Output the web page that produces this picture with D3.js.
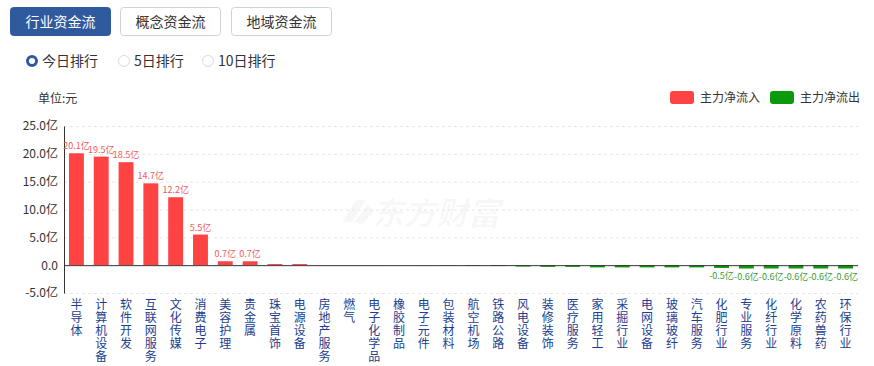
<!DOCTYPE html>
<html>
<head>
<meta charset="utf-8">
<script src="https://cdn.jsdelivr.net/npm/d3@7"></script>
<style>
  body { margin: 0; background: #fff; font-family: "Noto Sans CJK SC", "Noto Sans", sans-serif; }
  #chart { width: 874px; height: 366px; }
</style>
</head>
<body>
<div id="chart"></div>
<script>
// 行业资金流, 今日排行 (单位: 亿元)
var categories = ['半导体', '计算机设备', '软件开发', '互联网服务', '文化传媒', '消费电子', '美容护理', '贵金属',
  '珠宝首饰', '电源设备', '房地产服务', '燃气', '电子化学品', '橡胶制品', '电子元件', '包装材料',
  '航空机场', '铁路公路', '风电设备', '装修装饰', '医疗服务', '家用轻工', '采掘行业', '电网设备',
  '玻璃玻纤', '汽车服务', '化肥行业', '专业服务', '化纤行业', '化学原料', '农药兽药', '环保行业'];
var netFlow = [20.1, 19.5, 18.5, 14.7, 12.2, 5.5, 0.7, 0.7,
  0.2, 0.2, 0.02, 0.01, 0.01, 0.0, -0.02, -0.05,
  -0.1, -0.15, -0.25, -0.3, -0.3, -0.4, -0.4, -0.4,
  -0.4, -0.4, -0.5, -0.6, -0.6, -0.6, -0.6, -0.6];
// only the top and bottom bars carry a value label
var labelled = [0, 1, 2, 3, 4, 5, 6, 7, 26, 27, 28, 29, 30, 31];
var yTicks = [-5, 0, 5, 10, 15, 20, 25];
var tabs = ['行业资金流', '概念资金流', '地域资金流'];
var ranks = ['今日排行', '5日排行', '10日排行'];
var legendItems = [{ name: '主力净流入', color: '#ff4242' }, { name: '主力净流出', color: '#0b9a0b' }];

var RED = '#ff4242', GREEN = '#0b9a0b';

var svg = d3.select('#chart').append('svg')
  .attr('width', 874).attr('height', 366);

// Tabs
var tabX = [10, 120, 231];
var tabG = svg.selectAll('g.tab').data(tabs).enter().append('g')
  .attr('transform', function (d, i) { return 'translate(' + tabX[i] + ',7)'; });
tabG.append('rect')
  .attr('x', 0.5).attr('y', 0.5)
  .attr('width', 100).attr('height', 28).attr('rx', 3)
  .attr('fill', function (d, i) { return i === 0 ? '#2f5a9e' : '#fff'; })
  .attr('stroke', function (d, i) { return i === 0 ? '#2f5a9e' : '#ccd3dc'; });
tabG.append('text')
  .attr('x', 50.5).attr('y', 19.5)
  .attr('text-anchor', 'middle')
  .attr('font-size', 14)
  .attr('fill', function (d, i) { return i === 0 ? '#fff' : '#333'; })
  .text(function (d) { return d; });

// Radio options
var radioX = [32, 124, 208];
var rg = svg.selectAll('g.radio').data(ranks).enter().append('g')
  .attr('transform', function (d, i) { return 'translate(' + radioX[i] + ',61)'; });
rg.append('circle')
  .attr('r', function (d, i) { return i === 0 ? 4.5 : 5.5; })
  .attr('fill', '#fff')
  .attr('stroke', function (d, i) { return i === 0 ? '#2f5a9e' : '#d5dbe3'; })
  .attr('stroke-width', function (d, i) { return i === 0 ? 3 : 1; });
rg.append('text')
  .attr('x', 10).attr('y', 5)
  .attr('font-size', 14).attr('fill', '#333')
  .text(function (d) { return d; });

svg.append('text')
  .attr('x', 38).attr('y', 103)
  .attr('font-size', 12).attr('fill', '#333')
  .text('单位:元');

// Legend
var legX = [670, 770];
var lg = svg.selectAll('g.legend').data(legendItems).enter().append('g')
  .attr('transform', function (d, i) { return 'translate(' + legX[i] + ',91)'; });
lg.append('rect')
  .attr('width', 24).attr('height', 13).attr('rx', 3)
  .attr('fill', function (d) { return d.color; });
lg.append('text')
  .attr('x', 30).attr('y', 11)
  .attr('font-size', 12).attr('fill', '#333')
  .text(function (d) { return d.name; });

// Plot
var plotLeft = 64, plotRight = 858, plotTop = 126, plotBottom = 293;
var x = d3.scaleBand().domain(categories).range([plotLeft, plotRight]).paddingInner(0.4).paddingOuter(0.2);
var y = d3.scaleLinear().domain([-5, 25]).range([plotBottom, plotTop]);

// watermark
svg.append('text')
  .attr('x', 372).attr('y', 225)
  .attr('font-size', 32).attr('font-weight', 'bold')
  .attr('fill', '#000').attr('fill-opacity', 0.035)
  .attr('font-style', 'italic')
  .text('东方财富');
svg.append('path')
  .attr('d', 'M342,222 L356,200 L366,200 L352,222 Z M354,222 L368,204 L374,212 L362,224 Z')
  .attr('fill', '#000').attr('fill-opacity', 0.03);

// grid
svg.append('g').selectAll('line').data(yTicks.filter(function (t) { return t !== 0; })).enter()
  .append('line')
  .attr('x1', plotLeft).attr('x2', plotRight)
  .attr('y1', function (d) { return y(d) + 0.5; }).attr('y2', function (d) { return y(d) + 0.5; })
  .attr('stroke', '#e6e6e6').attr('stroke-dasharray', '3,3');

// y axis
var yAxis = d3.axisLeft(y).tickValues(yTicks).tickSize(0).tickPadding(6)
  .tickFormat(function (d) { return d === 0 ? '0.0' : d.toFixed(1) + '亿'; });
var yg = svg.append('g').attr('transform', 'translate(' + plotLeft + ',0)').call(yAxis);
yg.select('.domain').attr('stroke', '#333');
yg.selectAll('text').attr('font-size', 12).attr('fill', '#333')
  .attr('font-family', '"Noto Sans CJK SC", sans-serif');

// bars
svg.append('g').selectAll('rect').data(netFlow).enter().append('rect')
  .attr('x', function (d, i) { return x(categories[i]); })
  .attr('width', x.bandwidth())
  .attr('y', function (d) { return d >= 0 ? y(d) : y(0); })
  .attr('height', function (d) { return Math.abs(y(d) - y(0)); })
  .attr('fill', function (d) { return d >= 0 ? RED : GREEN; });

// zero line
svg.append('line')
  .attr('x1', plotLeft).attr('x2', plotRight)
  .attr('y1', y(0) + 0.5).attr('y2', y(0) + 0.5)
  .attr('stroke', '#333');

// value labels
svg.append('g').selectAll('text').data(labelled).enter().append('text')
  .attr('x', function (i) { return x(categories[i]) + x.bandwidth() / 2; })
  .attr('y', function (i) { return netFlow[i] >= 0 ? y(netFlow[i]) - 4 : y(netFlow[i]) + 11; })
  .attr('text-anchor', 'middle')
  .attr('font-size', 9)
  .attr('fill', function (i) { return netFlow[i] >= 0 ? '#ee5b5b' : '#3a9a3a'; })
  .text(function (i) { return netFlow[i].toFixed(1) + '亿'; });

// category labels, vertical
var cg = svg.append('g').selectAll('text').data(categories).enter().append('text')
  .attr('text-anchor', 'middle')
  .attr('font-size', 12)
  .attr('fill', '#213e8e');
cg.selectAll('tspan').data(function (d) { return d.split('').map(function (c, j) { return { c: c, j: j, name: d }; }); })
  .enter().append('tspan')
  .attr('x', function (o) { return x(o.name) + x.bandwidth() / 2; })
  .attr('y', function (o) { return 309 + o.j * 13; })
  .text(function (o) { return o.c; });
</script>
</body>
</html>
